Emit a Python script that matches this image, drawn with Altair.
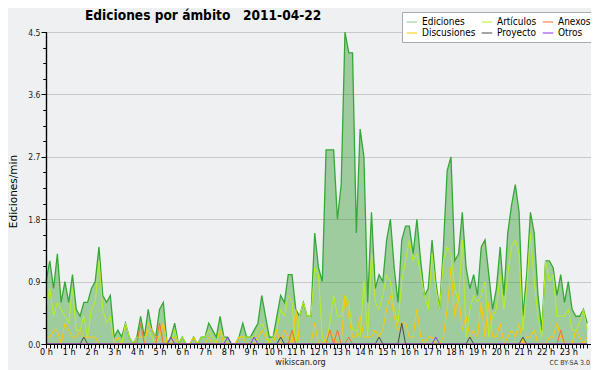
import altair as alt
import pandas as pd

# ---- data (edits per minute, 10-minute buckets, 2011-04-22) ----
ediciones = [
    0.9, 1.2, 0.8, 1.3, 0.6, 0.9,
    0.6, 1.0, 0.5, 0.4, 0.6, 0.6,
    0.8, 0.9, 1.4, 0.7, 0.6, 0.7,
    0.1, 0.2, 0.1, 0.3, 0.1, 0.0,
    0.1, 0.4, 0.1, 0.5, 0.2, 0.1,
    0.5, 0.6, 0.0, 0.1, 0.3, 0.0,
    0.1, 0.0, 0.0, 0.1, 0.0, 0.1,
    0.1, 0.3, 0.2, 0.1, 0.4, 0.1,
    0.1, 0.0, 0.0, 0.1, 0.3, 0.1,
    0.1, 0.2, 0.3, 0.7, 0.4, 0.1,
    0.1, 0.4, 0.7, 0.6, 1.0, 1.0,
    0.5, 0.4, 0.6, 0.4, 0.4, 1.6,
    1.1, 0.9, 2.8, 2.8, 2.8, 1.8,
    2.3, 4.5, 4.2, 4.2, 1.6, 3.1,
    2.7, 0.6, 1.9, 0.8, 1.0, 0.9,
    1.5, 1.8, 1.1, 0.6, 1.5, 1.7,
    1.7, 1.3, 1.8, 1.2, 0.7, 0.8,
    1.5, 0.9, 0.5, 1.4, 2.5, 2.7,
    1.2, 1.3, 1.9, 1.1, 0.8, 1.0,
    0.7, 1.4, 1.5, 1.0, 0.5, 0.8,
    1.4, 0.7, 1.6, 2.0, 2.3, 1.9,
    0.4, 1.0, 1.9, 1.6, 0.7, 0.2,
    1.2, 1.2, 1.1, 0.7, 1.0, 0.6,
    0.9, 0.5, 0.4, 0.4, 0.5, 0.3,
]
articulos = [
    0.5, 0.8, 0.4, 0.6, 0.5, 0.4,
    0.3, 0.8, 0.2, 0.2, 0.4, 0.1,
    0.5, 0.6, 1.2, 0.5, 0.3, 0.4,
    0.0, 0.1, 0.0, 0.3, 0.1, 0.0,
    0.1, 0.1, 0.1, 0.2, 0.1, 0.0,
    0.1, 0.3, 0.0, 0.0, 0.2, 0.0,
    0.1, 0.0, 0.0, 0.1, 0.0, 0.1,
    0.1, 0.2, 0.1, 0.0, 0.2, 0.1,
    0.0, 0.0, 0.0, 0.1, 0.1, 0.1,
    0.1, 0.1, 0.2, 0.3, 0.2, 0.0,
    0.1, 0.2, 0.5, 0.4, 0.7, 0.6,
    0.0, 0.4, 0.6, 0.4, 0.4, 1.1,
    1.0, 0.1, 0.0, 0.3, 0.7, 0.4,
    0.4, 0.7, 0.6, 0.2, 0.2, 0.1,
    0.9, 0.1, 1.3, 0.6, 0.5, 0.7,
    1.0, 0.9, 0.5, 0.3, 0.9, 1.2,
    1.5, 1.2, 1.3, 1.0, 0.7, 0.5,
    1.3, 0.8, 0.5, 1.2, 1.4, 1.3,
    0.8, 0.6, 1.5, 0.1, 0.5, 0.7,
    0.6, 0.7, 0.9, 0.1, 0.4, 0.5,
    1.0, 0.5, 1.0, 1.4, 1.5, 1.3,
    0.2, 0.8, 1.6, 0.9, 0.4, 0.1,
    1.2, 0.9, 1.0, 0.4, 0.4, 0.4,
    0.5, 0.2, 0.2, 0.3, 0.5, 0.2,
]
discusiones = [
    0.1, 0.1, 0.2, 0.2, 0.0, 0.3,
    0.2, 0.1, 0.1, 0.2, 0.1, 0.1,
    0.1, 0.1, 0.0, 0.0, 0.0, 0.0,
    0.0, 0.1, 0.0, 0.0, 0.0, 0.0,
    0.0, 0.0, 0.0, 0.3, 0.2, 0.1,
    0.1, 0.3, 0.0, 0.0, 0.1, 0.0,
    0.0, 0.0, 0.0, 0.1, 0.0, 0.0,
    0.0, 0.1, 0.0, 0.0, 0.2, 0.0,
    0.0, 0.0, 0.0, 0.1, 0.1, 0.0,
    0.0, 0.0, 0.1, 0.2, 0.1, 0.0,
    0.0, 0.2, 0.0, 0.2, 0.1, 0.0,
    0.5, 0.0, 0.0, 0.0, 0.0, 0.3,
    0.0, 0.0, 0.1, 0.2, 0.1, 0.0,
    0.0, 0.7, 0.4, 0.1, 0.1, 0.4,
    0.1, 0.1, 0.1, 0.2, 0.1, 0.2,
    0.5, 0.7, 0.4, 0.2, 0.3, 0.3,
    0.1, 0.1, 0.5, 0.1, 0.0, 0.1,
    0.1, 0.0, 0.0, 0.1, 0.5, 1.1,
    0.4, 0.7, 0.2, 0.4, 0.1, 0.2,
    0.1, 0.6, 0.1, 0.6, 0.1, 0.1,
    0.3, 0.0, 0.1, 0.2, 0.1, 0.3,
    0.0, 0.1, 0.1, 0.2, 0.0, 0.0,
    0.0, 0.1, 0.1, 0.3, 0.1, 0.0,
    0.0, 0.0, 0.2, 0.1, 0.0, 0.1,
]
anexos = [0.0] * 144
for _i, _v in [(25, 0.3), (30, 0.3), (65, 0.2), (75, 0.2), (77, 0.2), (80, 0.1), (136, 0.2)]:
    anexos[_i] = _v
proyecto = [0.0] * 144
for _i, _v in [(10, 0.1), (62, 0.1), (88, 0.1), (94, 0.3), (112, 0.1), (126, 0.1)]:
    proyecto[_i] = _v
otros = [0.0] * 144
for _i, _v in [(33, 0.1), (48, 0.1), (55, 0.1), (103, 0.1)]:
    otros[_i] = _v

minutes = list(range(0, 1440, 10))            # bucket start, minutes after 00:00
x_tick_minutes = list(range(0, 1441, 10))
y_major = [0.0, 0.9, 1.8, 2.7, 3.6, 4.5]
y_minor = [round(k * 0.225, 3) for k in range(21)]

# column-major legend order: (Ediciones, Discusiones) (Artículos, Proyecto) (Anexos, Otros)
legend_names = ["Ediciones", "Discusiones", "Artículos", "Proyecto", "Anexos", "Otros"]
legend_colors = ["#88cc88", "#ffc800", "#bbee22", "#4a4a4a", "#ff6a33", "#8833ee"]

title_text = "Ediciones por ámbito\u00a0\u00a0 2011-04-22"
credit_text = "CC BY-SA 3.0"

LBL_FONT = "DejaVu Sans Condensed, DejaVu Sans"

ed_df = pd.DataFrame({"t": minutes, "v": ediciones})
rows = []
for name, vals in [("Artículos", articulos), ("Discusiones", discusiones),
                   ("Anexos", anexos), ("Proyecto", proyecto), ("Otros", otros)]:
    for t, v in zip(minutes, vals):
        rows.append({"t": t, "v": v, "s": name})
lines_df = pd.DataFrame(rows)

x_scale = alt.Scale(domain=[0, 1440], nice=False, zero=False)
y_scale = alt.Scale(domain=[0, 4.5], nice=False)

x_axis = alt.Axis(
    values=x_tick_minutes,
    labelExpr="datum.value % 60 == 0 && datum.value < 1440 ? (datum.value / 60) + ' h' : ''",
    tickSize=4, tickColor="black", domainColor="black", domainWidth=1.2,
    labelFont=LBL_FONT, labelFontSize=9, labelColor="black", labelPadding=-1,
    labelOverlap=False, labelFlush=False, labelAlign="center", grid=False,
    title="wikiscan.org", titleFont=LBL_FONT, titleFontSize=9, titleFontWeight="normal",
    titleColor="#222222", titleX=254, titleY=17, titleBaseline="middle", titleAlign="center",
    zindex=1,
)
y_axis_main = alt.Axis(
    values=y_major, format=".1f", orient="left",
    tickSize=5, tickColor="black", domain=False,
    grid=True, gridColor="#c8c8c8", gridWidth=1,
    labelFont=LBL_FONT, labelFontSize=8.5, labelColor="#222222", labelPadding=1,
    title="Ediciones/min", titleFont="DejaVu Sans", titleFontSize=10.5,
    titleFontWeight="normal", titleColor="black",
    titleX=-33, titleY=159, titleAlign="center", titleBaseline="middle", titleAngle=270,
    zindex=0,
)
y_axis_minor = alt.Axis(
    values=y_minor, orient="left", labels=False, tickSize=3, tickColor="black",
    domain=True, domainColor="black", domainWidth=1.2, grid=False, title=None, zindex=1,
)

X = alt.X("t:Q", scale=x_scale, axis=x_axis)

area = alt.Chart(ed_df).mark_area(color="#2e9b2e", opacity=0.42).encode(
    x=X,
    y=alt.Y("v:Q", scale=y_scale, axis=y_axis_main),
)
outline = alt.Chart(ed_df).mark_line(color="#36a836", strokeWidth=1.3).encode(
    x=X,
    y=alt.Y("v:Q", scale=y_scale, axis=y_axis_minor),
)
lines = alt.Chart(lines_df).mark_line(strokeWidth=1).encode(
    x=X,
    y=alt.Y("v:Q", scale=y_scale, axis=y_axis_minor),
    color=alt.Color(
        "s:N",
        scale=alt.Scale(domain=legend_names, range=legend_colors),
        legend=alt.Legend(
            orient="none", legendX=356, legendY=-20, columns=3, title=None,
            gridAlign="each",
            symbolType="stroke", symbolSize=110, symbolStrokeWidth=1,
            labelFont=LBL_FONT, labelFontSize=10, labelColor="black", labelOffset=4,
            columnPadding=3, rowPadding=0, padding=4,
            fillColor="#ffffff", strokeColor="#aaaaaa",
        ),
    ),
)
title = alt.Chart(pd.DataFrame({"a": [0]})).mark_text(
    text=title_text, font=LBL_FONT, fontSize=13.6, fontWeight="bold", align="left",
    baseline="alphabetic", color="black",
).encode(x=alt.value(39), y=alt.value(-12.5))
cc = alt.Chart(pd.DataFrame({"a": [0]})).mark_text(
    text=credit_text, font=LBL_FONT, fontSize=7, align="right", baseline="middle",
    color="#333333",
).encode(x=alt.value(544), y=alt.value(331))

chart = alt.layer(area, outline, lines, title, cc).resolve_axis(y="independent").properties(
    width=545, height=312,
    autosize=alt.AutoSizeParams(type="none"),
    padding={"left": 38, "top": 24, "right": 0, "bottom": 26},
).configure(background="#eff0f2").configure_view(stroke=None)

chart.save("out.html", embed_options={"renderer": "svg", "actions": False})
